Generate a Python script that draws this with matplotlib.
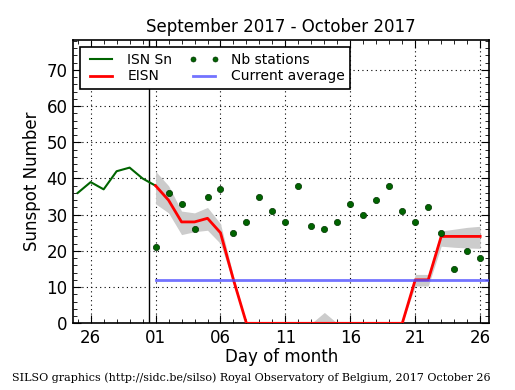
import numpy as np
import matplotlib
matplotlib.use("Agg")
import matplotlib.pyplot as plt
from matplotlib.ticker import MultipleLocator

# day offsets relative to 2017-10-01
isn_days = [-6, -5, -4, -3, -2, -1, 0]
isn_vals = [36, 39, 37, 42, 43, 40, 38]

eisn_days = list(range(0, 26))
eisn_vals = [38, 34, 28, 28, 29, 25, 12, 0, 0, 0, 0, 0, 0, 0, 0, 0, 0, 0, 0, 0,
             12, 12, 24, 24, 24, 24]
eisn_hi = [42, 38, 31, 30.5, 32, 27.5, 13, 0, 0, 0, 0, 0, 0, 3, 0, 0, 0, 0, 0, 0,
           13.5, 13.5, 25.5, 26, 26.5, 26.8]
eisn_lo = [33, 30.5, 24.5, 25.3, 25.7, 22, 11, 0, 0, 0, 0, 0, 0, 0, 0, 0, 0, 0, 0, 0,
           10.3, 10.3, 21.3, 21, 20.8, 20.7]
nb_stations = [21, 36, 33, 26, 35, 37, 25, 28, 35, 31, 28, 38, 27, 26, 28, 33,
               30, 34, 38, 31, 28, 32, 25, 15, 20, 18]
current_avg = 12

tick_pos = [-5, 0, 5, 10, 15, 20, 25]
tick_lab = ["26", "01", "06", "11", "16", "21", "26"]

fig = plt.figure(figsize=(5.15, 3.9), dpi=100)
ax = fig.add_axes([0.142, 0.171, 0.808, 0.726])

ax.fill_between(eisn_days, eisn_lo, eisn_hi, color="0.8", lw=0, zorder=1)
l1, = ax.plot(isn_days, isn_vals, color="#006400", lw=1.5, zorder=3, label="ISN Sn")
l2, = ax.plot(eisn_days, eisn_vals, color="red", lw=2, zorder=3, label="EISN")
l3, = ax.plot(eisn_days, nb_stations, "o", color="#006400", ms=4.5, mec="#003300",
              mew=0.5, zorder=4, label="Nb stations")
l4, = ax.plot([0, 27], [current_avg, current_avg], color="#5050ff", lw=2, alpha=0.8,
              zorder=5, label="Current average")
ax.axvline(-0.5, color="black", lw=1, zorder=2)

ax.set_xlim(-6.35, 25.7)
ax.set_ylim(0, 78.2)
ax.set_xticks(tick_pos)
ax.set_xticklabels(tick_lab)
ax.xaxis.set_minor_locator(MultipleLocator(1))
ax.yaxis.set_major_locator(MultipleLocator(10))
ax.yaxis.set_minor_locator(MultipleLocator(2))
ax.tick_params(which="both", direction="in", top=True, right=True, labelsize=12)
ax.tick_params(which="major", length=6, pad=4)
ax.tick_params(which="minor", length=3)
ax.grid(True, which="major", color="black", linestyle=(0, (1, 3)), lw=0.8)
ax.set_axisbelow(True)
for s in ax.spines.values():
    s.set_linewidth(1.2)

ax.set_title("September 2017 - October 2017", fontsize=12)
ax.set_xlabel("Day of month", fontsize=12, labelpad=1)
ax.set_ylabel("Sunspot Number", fontsize=12)

leg = ax.legend(handles=[l1, l2, l3, l4], loc="upper left", ncol=2, numpoints=2,
                fontsize=10, fancybox=False, framealpha=1, edgecolor="black",
                handlelength=2.2, columnspacing=1.2, borderaxespad=0.5,
                labelspacing=0.2, markerscale=0.8)
leg.get_frame().set_linewidth(1.2)

fig.text(0.023, 0.022, "SILSO graphics (http://sidc.be/silso) Royal Observatory of Belgium, 2017 October 26",
         family="DejaVu Serif", fontsize=8)

plt.savefig("out.png", dpi=100)
